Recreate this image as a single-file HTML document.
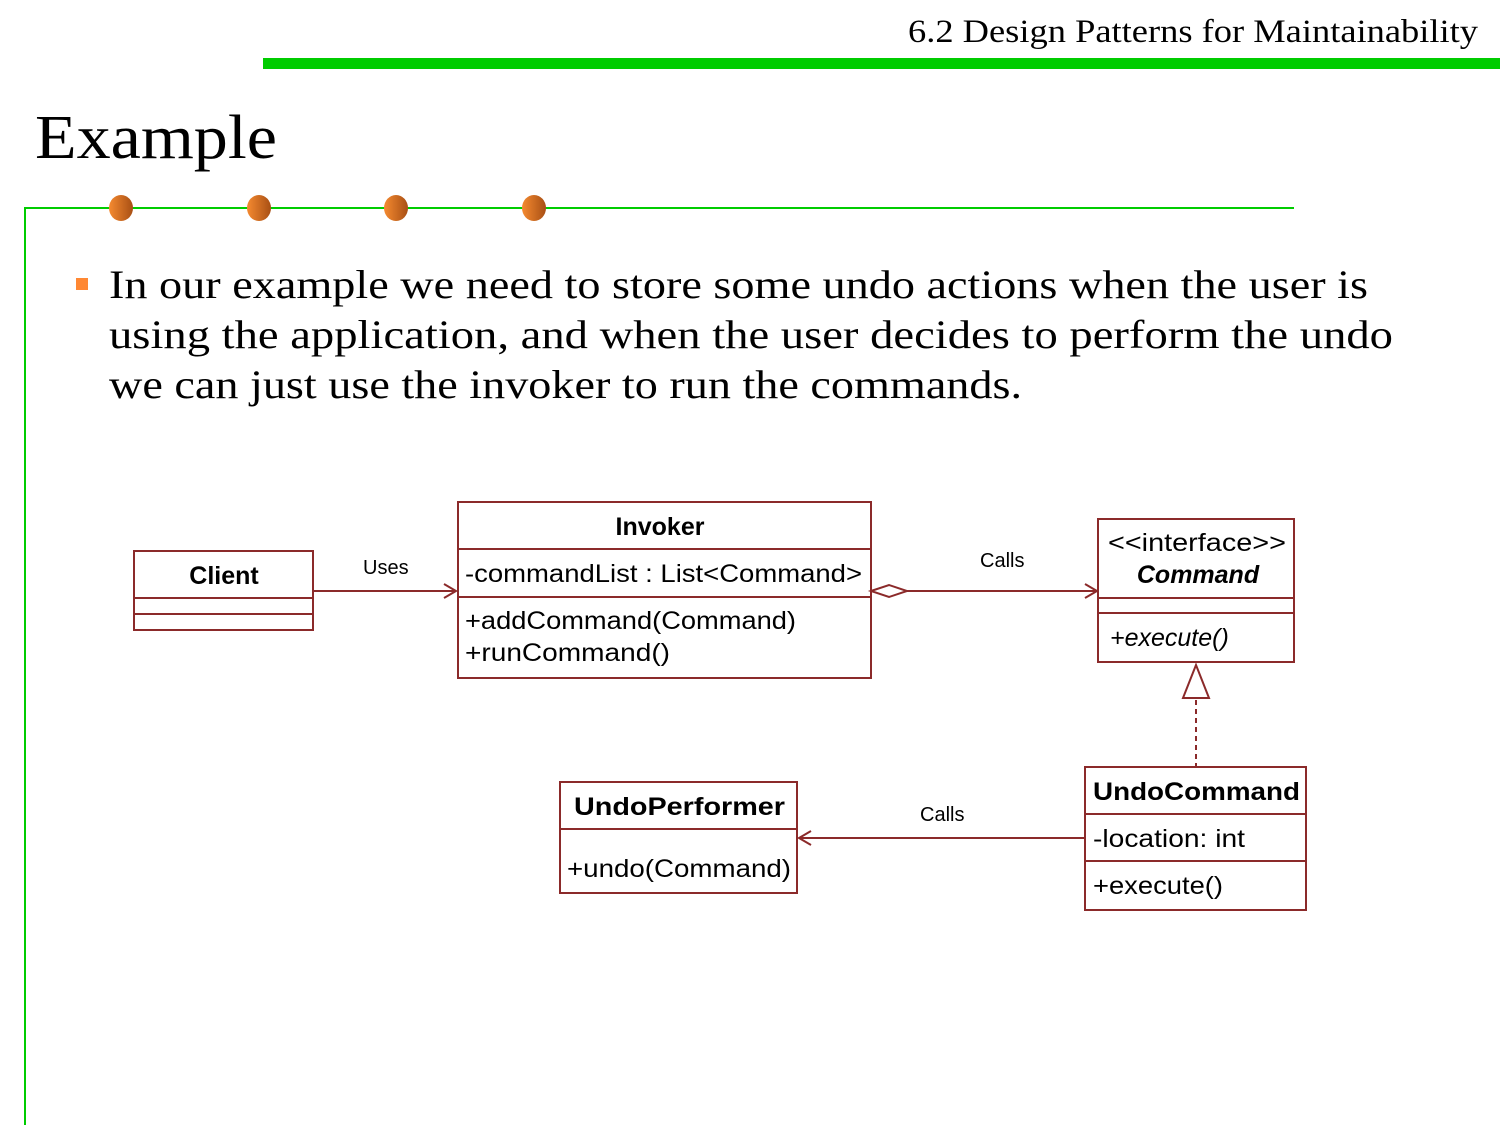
<!DOCTYPE html>
<html><head><style>body{margin:0;background:#fff}svg{display:block}</style></head><body>
<svg width="1500" height="1125" xmlns="http://www.w3.org/2000/svg">
<defs><linearGradient id="g" x1="0" x2="1"><stop offset="0" stop-color="#f58a30"/><stop offset="1" stop-color="#a84f14"/></linearGradient></defs>
<text x="908" y="42" textLength="570" lengthAdjust="spacingAndGlyphs" font-family="Liberation Serif,serif" font-size="33">6.2 Design Patterns for Maintainability</text>
<rect x="263" y="58" width="1237" height="11" fill="#00cc00"/>
<text x="35" y="158" textLength="242" lengthAdjust="spacingAndGlyphs" font-family="Liberation Serif,serif" font-size="62">Example</text>
<path d="M25 1125V208H1294" fill="none" stroke="#00cc00" stroke-width="2"/>
<g fill="url(#g)"><ellipse cx="121" cy="208" rx="12" ry="13"/><ellipse cx="259" cy="208" rx="12" ry="13"/><ellipse cx="396" cy="208" rx="12" ry="13"/><ellipse cx="534" cy="208" rx="12" ry="13"/></g>
<rect x="76" y="278" width="12" height="12" fill="#ff8833"/>
<g font-family="Liberation Serif,serif" font-size="40">
<text x="109" y="298" textLength="1259" lengthAdjust="spacingAndGlyphs">In our example we need to store some undo actions when the user is</text>
<text x="109" y="348" textLength="1284" lengthAdjust="spacingAndGlyphs">using the application, and when the user decides to perform the undo</text>
<text x="109" y="398" textLength="913" lengthAdjust="spacingAndGlyphs">we can just use the invoker to run the commands.</text></g>
<g fill="none" stroke="#8b2a2a" stroke-width="2">
<rect x="134" y="551" width="179" height="79"/><path d="M134 598H313M134 614H313"/>
<rect x="458" y="502" width="413" height="176"/><path d="M458 549H871M458 597H871"/>
<rect x="1098" y="519" width="196" height="143"/><path d="M1098 598H1294M1098 613H1294"/>
<rect x="560" y="782" width="237" height="111"/><path d="M560 829H797"/>
<rect x="1085" y="767" width="221" height="143"/><path d="M1085 814H1306M1085 861H1306"/>
<path d="M313 591H456M444 584L456 591L444 598"/>
<path d="M871 591L889 585L907 591L889 597Z M907 591H1097M1085 584L1097 591L1085 598"/>
<path d="M1085 838H799M811 831L799 838L811 845"/>
<path d="M1196 665L1183 698H1209Z"/>
<path d="M1196 700V766" stroke-dasharray="5,4"/>
</g>
<g font-family="Liberation Sans,sans-serif" font-size="25" fill="#000">
<text x="224" y="584" text-anchor="middle" font-weight="bold">Client</text>
<text x="660" y="535" text-anchor="middle" font-weight="bold">Invoker</text>
<text x="465" y="582" textLength="397" lengthAdjust="spacingAndGlyphs">-commandList : List&lt;Command&gt;</text>
<text x="465" y="629" textLength="331" lengthAdjust="spacingAndGlyphs">+addCommand(Command)</text>
<text x="465" y="661" textLength="205" lengthAdjust="spacingAndGlyphs">+runCommand()</text>
<text x="1108" y="551" textLength="178" lengthAdjust="spacingAndGlyphs">&lt;&lt;interface&gt;&gt;</text>
<text x="1198" y="583" text-anchor="middle" font-weight="bold" font-style="italic">Command</text>
<text x="1110" y="646" font-style="italic">+execute()</text>
<text x="574" y="815" textLength="211" lengthAdjust="spacingAndGlyphs" font-weight="bold">UndoPerformer</text>
<text x="567" y="877" textLength="224" lengthAdjust="spacingAndGlyphs">+undo(Command)</text>
<text x="1093" y="800" textLength="207" lengthAdjust="spacingAndGlyphs" font-weight="bold">UndoCommand</text>
<text x="1093" y="847" textLength="152" lengthAdjust="spacingAndGlyphs">-location: int</text>
<text x="1093" y="894" textLength="130" lengthAdjust="spacingAndGlyphs">+execute()</text>
<g font-size="20"><text x="363" y="574">Uses</text><text x="980" y="567">Calls</text><text x="920" y="821">Calls</text></g>
</g>
</svg>
</body></html>
